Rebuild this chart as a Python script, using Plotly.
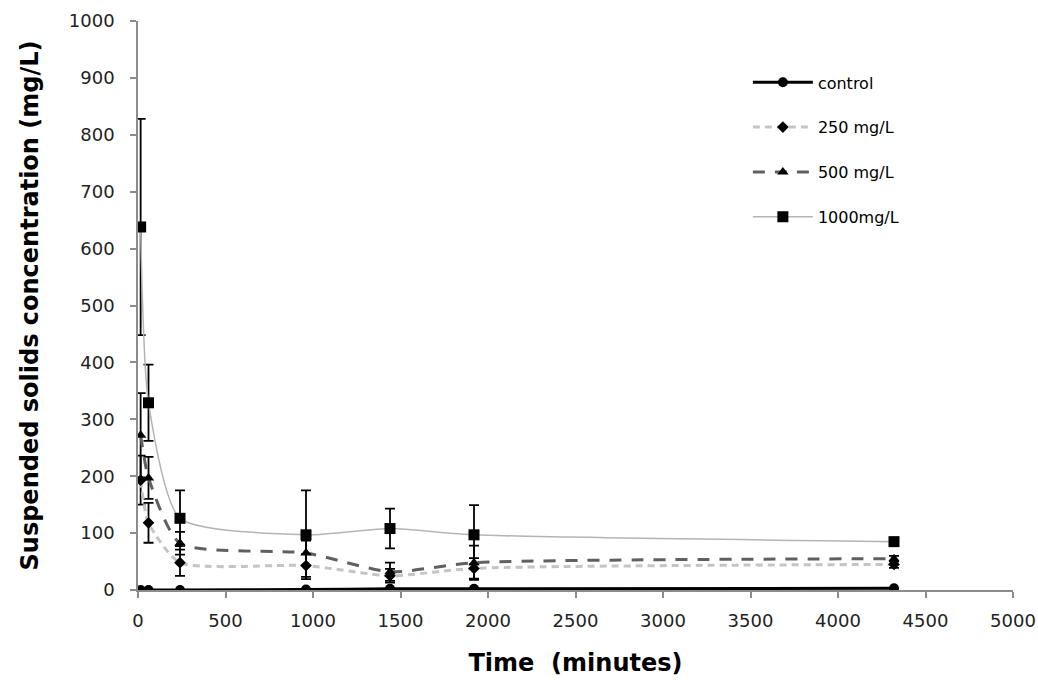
import plotly.graph_objects as go

time_min = [15, 60, 240, 960, 1440, 1920, 4320]

control = [0, 0, 0, 1, 2, 2, 3]
control_err = [0, 0, 0, 0, 0, 0, 0]

c250 = [193, 118, 48, 43, 25, 38, 45]
c250_err = [43, 35, 23, 20, 12, 18, 6]

c500 = [272, 197, 82, 65, 32, 48, 55]
c500_err = [74, 37, 20, 22, 16, 30, 5]

c1000 = [638, 329, 126, 97, 108, 97, 85]
c1000_err = [190, 67, 49, 78, 35, 52, 5]

x_ticks = [0, 500, 1000, 1500, 2000, 2500, 3000, 3500, 4000, 4500, 5000]
y_ticks = [0, 100, 200, 300, 400, 500, 600, 700, 800, 900, 1000]

fig = go.Figure()

def err(arr):
    return dict(type="data", array=arr, visible=True, color="black", thickness=1.8, width=5)

fig.add_trace(go.Scatter(
    x=time_min, y=c1000, name="1000mg/L", mode="lines+markers", legendgroup="d", legendrank=4,
    line=dict(color="#b4b4b4", width=1.5, shape="spline", smoothing=0.6),
    marker=dict(symbol="square", size=11, color="black"),
    error_y=err(c1000_err)))
fig.add_trace(go.Scatter(
    x=time_min, y=c500, name="500 mg/L", mode="lines+markers", legendgroup="c", legendrank=3,
    line=dict(color="#606060", width=3, dash="12px,10px", shape="spline", smoothing=0.6),
    marker=dict(symbol="triangle-up", size=10, color="black"),
    error_y=err(c500_err)))
fig.add_trace(go.Scatter(
    x=time_min, y=c250, name="250 mg/L", mode="lines+markers", legendgroup="b", legendrank=2,
    line=dict(color="#c4c4c4", width=3, dash="7px,5px", shape="spline", smoothing=0.6),
    marker=dict(symbol="diamond", size=9, color="black"),
    error_y=err(c250_err)))
fig.add_trace(go.Scatter(
    x=time_min, y=control, name="control", mode="lines+markers", legendgroup="a", legendrank=1,
    line=dict(color="black", width=3, shape="spline", smoothing=0.6),
    marker=dict(symbol="circle", size=10, color="black"),
    error_y=err(control_err)))

axis_common = dict(
    showgrid=False, zeroline=False, showline=True, linecolor="#8c8c8c", linewidth=1.5,
    ticks="outside", tickcolor="#8c8c8c", ticklen=6, tickwidth=1.5, automargin=False,
    tickfont=dict(family="DejaVu Sans", size=18, color="#222"),
)

title_font = dict(family="DejaVu Sans", size=24, color="black", weight="bold")

fig.update_layout(
    width=1038, height=680,
    margin=dict(l=138, r=25, t=21, b=90),
    paper_bgcolor="white", plot_bgcolor="white",
    font=dict(family="DejaVu Sans", color="black"),
    showlegend=True,
    legend=dict(x=0.697, y=0.922, xanchor="left", yanchor="top",
                font=dict(family="DejaVu Sans", size=16, color="black"),
                tracegroupgap=21, itemwidth=60, bgcolor="rgba(0,0,0,0)",
                traceorder="grouped"),
    xaxis=dict(range=[0, 5000], tickvals=x_ticks, ticktext=[str(v) for v in x_ticks],
               ticklabelstandoff=8,
               title=dict(text="Time  (minutes)", font=title_font, standoff=24),
               **axis_common),
    yaxis=dict(range=[0, 1000], tickvals=y_ticks, ticktext=[str(v) for v in y_ticks],
               ticklabelstandoff=12,
               title=dict(text="Suspended solids concentration (mg/L)", font=title_font, standoff=23),
               **axis_common),
)

fig.write_html("out.html", config={"displayModeBar": False},
               post_script="document.body.style.margin='0';document.body.style.overflow='hidden';")
